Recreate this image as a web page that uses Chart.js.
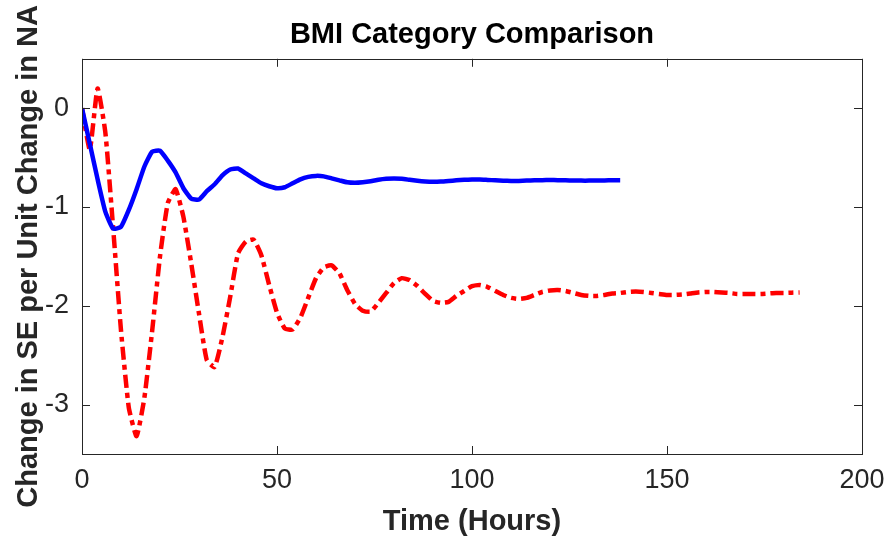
<!DOCTYPE html>
<html>
<head>
<meta charset="utf-8">
<script src="https://cdn.jsdelivr.net/npm/chart.js@4.4.1/dist/chart.umd.min.js"></script>
<style>
  html, body { margin: 0; padding: 0; background: #fff; }
  canvas { display: block; }
</style>
</head>
<body>
<canvas id="chart" width="885" height="540"></canvas>
<script>
// Blue series (solid), sampled every 2 hours, ends at 138 h
const blueHours = [0, 2, 4, 6, 8, 10, 12, 14, 16, 18, 20, 22, 24, 26, 28, 30, 32, 34, 36, 38, 40,
    42, 44, 46, 48, 50, 52, 54, 56, 58, 60, 62, 64, 66, 68, 70, 72, 74, 76, 78, 80,
    82, 84, 86, 88, 90, 92, 94, 96, 98, 100, 102, 104, 106, 108, 110, 112, 114, 116, 118, 120,
    122, 124, 126, 128, 130, 132, 134, 136, 138];
const blueValues = [0, -0.36, -0.72, -1.05, -1.22, -1.2, -1.03, -0.82, -0.59, -0.44, -0.43,
    -0.53, -0.65, -0.81, -0.915, -0.925, -0.84, -0.77, -0.68, -0.62, -0.61,
    -0.66, -0.71, -0.76, -0.79, -0.81, -0.8, -0.76, -0.72, -0.695, -0.685,
    -0.69, -0.71, -0.73, -0.75, -0.755, -0.75, -0.74, -0.725, -0.715, -0.712,
    -0.715, -0.725, -0.735, -0.742, -0.745, -0.743, -0.737, -0.73, -0.725, -0.722,
    -0.722, -0.726, -0.73, -0.734, -0.736, -0.736, -0.733, -0.73, -0.728, -0.727,
    -0.728, -0.73, -0.732, -0.733, -0.733, -0.732, -0.731, -0.73, -0.73];

// Red series (dash-dot), sampled every 2 hours, ends at 184 h
const redHours = [0, 2, 4, 6, 8, 10, 12, 14, 16, 18, 20, 22, 24, 26, 28, 30, 32, 34, 36, 38, 40,
    42, 44, 46, 48, 50, 52, 54, 56, 58, 60, 62, 64, 66, 68, 70, 72, 74, 76, 78, 80,
    82, 84, 86, 88, 90, 92, 94, 96, 98, 100, 102, 104, 106, 108, 110, 112, 114, 116, 118, 120,
    122, 124, 126, 128, 130, 132, 134, 136, 138, 140, 142, 144, 146, 148, 150, 152, 154, 156, 158, 160,
    162, 164, 166, 168, 170, 172, 174, 176, 178, 180, 182, 184];
const redValues = [0, -0.42, 0.2, -0.25, -1.22, -2.25, -3.03, -3.32, -2.93, -2.25, -1.5,
    -0.96, -0.82, -1.1, -1.57, -2.08, -2.55, -2.62, -2.32, -1.91, -1.47,
    -1.35, -1.33, -1.49, -1.79, -2.07, -2.23, -2.24, -2.12, -1.92, -1.72,
    -1.61, -1.59, -1.67, -1.84, -1.98, -2.05, -2.06, -1.97, -1.87, -1.77,
    -1.72, -1.74, -1.8, -1.88, -1.95, -1.97, -1.96, -1.9, -1.85, -1.8,
    -1.79, -1.81, -1.85, -1.89, -1.92, -1.93, -1.92, -1.89, -1.86, -1.845,
    -1.84, -1.85, -1.87, -1.89, -1.9, -1.9, -1.89, -1.875, -1.87, -1.86,
    -1.855, -1.86, -1.87, -1.88, -1.89, -1.89, -1.885, -1.875, -1.865, -1.86,
    -1.86, -1.865, -1.87, -1.88, -1.88, -1.88, -1.88, -1.875, -1.87, -1.87,
    -1.867, -1.865];

const xTicks = [0, 50, 100, 150, 200];
const yTicks = [-3, -2, -1, 0];

const FONT = "'Liberation Sans', Arial, Helvetica, sans-serif";
const AXIS_COLOR = '#262626';

function toPoints(xs, ys) {
    return xs.map((x, i) => ({ x: x, y: ys[i] }));
}

// MATLAB-style box with inward ticks on all four sides
const boxPlugin = {
    id: 'matlabBox',
    afterDatasetsDraw(chart) {
        const { ctx, chartArea, scales } = chart;
        const tick = 8;
        ctx.save();
        ctx.strokeStyle = AXIS_COLOR;
        ctx.lineWidth = 1;
        ctx.beginPath();
        xTicks.forEach(v => {
            const px = Math.round(scales.x.getPixelForValue(v)) + 0.5;
            ctx.moveTo(px, chartArea.bottom);
            ctx.lineTo(px, chartArea.bottom - tick);
            ctx.moveTo(px, chartArea.top);
            ctx.lineTo(px, chartArea.top + tick);
        });
        yTicks.forEach(v => {
            const py = Math.round(scales.y.getPixelForValue(v)) + 0.5;
            ctx.moveTo(chartArea.left, py);
            ctx.lineTo(chartArea.left + tick, py);
            ctx.moveTo(chartArea.right, py);
            ctx.lineTo(chartArea.right - tick, py);
        });
        ctx.stroke();
        ctx.strokeRect(Math.round(chartArea.left) + 0.5, Math.round(chartArea.top) + 0.5,
            Math.round(chartArea.right - chartArea.left), Math.round(chartArea.bottom - chartArea.top));
        ctx.restore();
    }
};

new Chart(document.getElementById('chart'), {
    type: 'line',
    data: {
        datasets: [
            {
                label: 'Blue',
                data: toPoints(blueHours, blueValues),
                borderColor: '#0000ff',
                borderWidth: 4.5,
                pointRadius: 0,
                tension: 0.15,
                fill: false
            },
            {
                label: 'Red',
                data: toPoints(redHours, redValues),
                borderColor: '#ff0000',
                borderWidth: 4.5,
                borderDash: [13, 5, 5, 5],
                pointRadius: 0,
                tension: 0.15,
                fill: false
            }
        ]
    },
    options: {
        responsive: false,
        animation: false,
        devicePixelRatio: 1,
        layout: { padding: { left: 0, right: 23, top: 0, bottom: 0 } },
        plugins: {
            legend: { display: false },
            tooltip: { enabled: false },
            title: {
                display: true,
                text: 'BMI Category Comparison',
                fullSize: false,
                color: '#000',
                font: { family: FONT, size: 29, weight: 'bold', lineHeight: 1.2 },
                padding: { top: 18, bottom: 6 }
            }
        },
        scales: {
            x: {
                type: 'linear',
                min: 0,
                max: 200,
                grid: { display: false, drawTicks: false },
                border: { display: false },
                afterBuildTicks: scale => { scale.ticks = xTicks.map(v => ({ value: v })); },
                afterFit: scale => {
                    scale.height = 86;
                    scale.paddingLeft = 0;
                    scale.paddingRight = 0;
                },
                ticks: {
                    color: AXIS_COLOR,
                    padding: 10,
                    maxRotation: 0,
                    font: { family: FONT, size: 27 }
                },
                title: {
                    display: true,
                    text: 'Time (Hours)',
                    color: '#262626',
                    font: { family: FONT, size: 29, weight: 'bold', lineHeight: 1.2 },
                    padding: { top: 0, bottom: 1 }
                }
            },
            y: {
                min: -3.5,
                max: 0.5,
                grid: { display: false, drawTicks: false },
                border: { display: false },
                afterBuildTicks: scale => { scale.ticks = yTicks.map(v => ({ value: v })); },
                afterFit: scale => { scale.width = 82; },
                ticks: {
                    color: AXIS_COLOR,
                    padding: 13,
                    font: { family: FONT, size: 27 }
                },
                title: {
                    display: true,
                    text: 'Change in SE per Unit Change in NA',
                    color: '#262626',
                    font: { family: FONT, size: 29, weight: 'bold', lineHeight: 1.2 },
                    padding: { top: 12, bottom: 0 }
                }
            }
        }
    },
    plugins: [boxPlugin]
});
</script>
</body>
</html>
